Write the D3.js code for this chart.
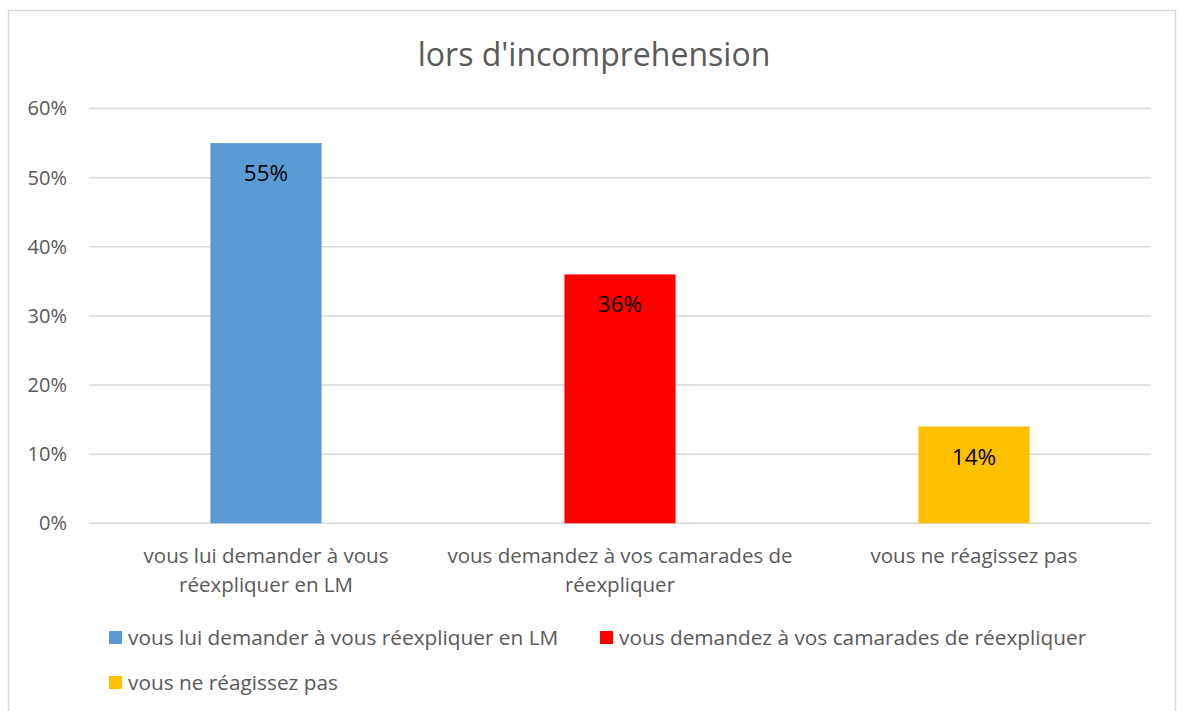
<!DOCTYPE html>
<html>
<head>
<meta charset="utf-8">
<script src="https://d3js.org/d3.v7.min.js"></script>
<style>
  body { margin: 0; background: #fff; }
  text { font-family: "Open Sans", sans-serif; }
</style>
</head>
<body>
<div id="chart"></div>
<script>
var categories = ["vous lui demander à vous réexpliquer en LM", "vous demandez à vos camarades de réexpliquer", "vous ne réagissez pas"];
var axisLines = [["vous lui demander à vous", "réexpliquer en LM"], ["vous demandez à vos camarades de", "réexpliquer"], ["vous ne réagissez pas"]];
var values = [0.55, 0.36, 0.14];
var colors = ["#5B9BD5", "#FF0000", "#FFC000"];
var yTicks = [0, 0.1, 0.2, 0.3, 0.4, 0.5, 0.6];

var W = 1185, H = 711;
var svg = d3.select("#chart").append("svg").attr("width", W).attr("height", H);

// cadre du graphique
svg.append("rect").attr("x", 8.5).attr("y", 10.5).attr("width", 1167).attr("height", 720)
  .attr("fill", "#fff").attr("stroke", "#d9d9d9").attr("stroke-width", 1.5);

svg.append("text").attr("x", 594).attr("y", 66).attr("text-anchor", "middle")
  .attr("font-size", 32).attr("fill", "#595959").text("lors d'incomprehension");

var pLeft = 89, pRight = 1151, pTop = 108.5, pBottom = 523.3;

var x = d3.scaleBand().domain(categories).range([pLeft, pRight]).paddingInner(0.686).paddingOuter(0.343);
var y = d3.scaleLinear().domain([0, 0.6]).range([pBottom, pTop]);

// grille
svg.selectAll(".grid").data(yTicks).enter().append("line")
  .attr("x1", pLeft).attr("x2", pRight)
  .attr("y1", function(d) { return y(d); }).attr("y2", function(d) { return y(d); })
  .attr("stroke", "#d9d9d9").attr("stroke-width", 1.5);

var yAxis = d3.axisLeft(y).tickValues(yTicks).tickFormat(d3.format(".0%")).tickSize(0).tickPadding(22);
var ga = svg.append("g").attr("transform", "translate(" + pLeft + ",0)").call(yAxis);
ga.select(".domain").remove();
ga.selectAll("text").attr("font-size", 20).attr("fill", "#595959").attr("font-family", "Open Sans, sans-serif");

svg.selectAll(".bar").data(values).enter().append("rect")
  .attr("x", function(d, i) { return x(categories[i]); })
  .attr("y", function(d) { return y(d); })
  .attr("width", x.bandwidth())
  .attr("height", function(d) { return pBottom - y(d); })
  .attr("fill", function(d, i) { return colors[i]; });

svg.selectAll(".lbl").data(values).enter().append("text")
  .attr("x", function(d, i) { return x(categories[i]) + x.bandwidth() / 2; })
  .attr("y", function(d) { return y(d) + 38; })
  .attr("text-anchor", "middle").attr("font-size", 22.5).attr("fill", "#000")
  .text(function(d) { return Math.round(d * 100) + "%"; });

// libellés des catégories
categories.forEach(function(c, i) {
  var t = svg.append("text").attr("text-anchor", "middle").attr("font-size", 20.5).attr("fill", "#595959");
  axisLines[i].forEach(function(line, j) {
    t.append("tspan").attr("x", x(c) + x.bandwidth() / 2).attr("y", 563 + j * 29).text(line);
  });
});

// légende
var legendPos = [[109, 645], [600, 645], [109, 690]];
categories.forEach(function(c, i) {
  var g = svg.append("g").attr("transform", "translate(" + legendPos[i][0] + "," + legendPos[i][1] + ")");
  g.append("rect").attr("x", 0).attr("y", -14).attr("width", 13).attr("height", 13).attr("fill", colors[i]);
  g.append("text").attr("x", 19).attr("y", 0).attr("font-size", 20.8).attr("fill", "#595959").text(c);
});
</script>
</body>
</html>
